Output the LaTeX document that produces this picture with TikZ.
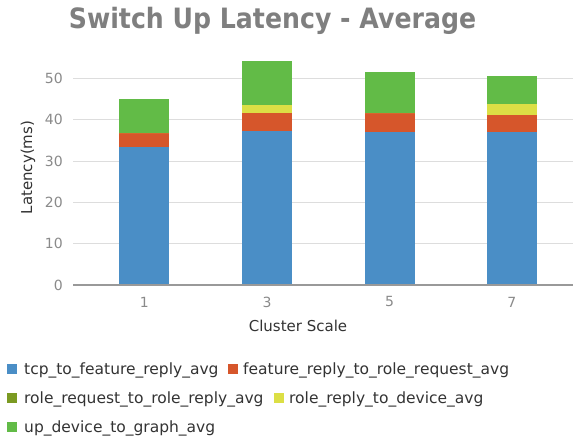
\documentclass[tikz,border=0pt]{standalone}
\usepackage{fontspec}
\setmainfont{DejaVu Sans}
\newfontfamily\titlefont[FakeStretch=0.9]{DejaVu Sans Bold}
\definecolor{cBlue}{HTML}{4A8EC6}
\definecolor{cOrange}{HTML}{D6562B}
\definecolor{cOlive}{HTML}{7B9A22}
\definecolor{cYellow}{HTML}{DCDF45}
\definecolor{cGreen}{HTML}{62BB47}
\definecolor{cGrid}{HTML}{DDDDDD}
\definecolor{cAxis}{HTML}{999999}
\definecolor{cTick}{HTML}{8A8A8A}
\definecolor{cTitle}{HTML}{7F7F7F}
\definecolor{cText}{HTML}{333333}
\tikzset{
  title/.style={font=\titlefont\fontsize{28}{30}\selectfont, text=cTitle, inner sep=0pt},
  ticklbl/.style={font=\fontsize{14}{15}\selectfont, text=cTick, inner sep=0pt},
  axislbl/.style={font=\fontsize{15}{16}\selectfont, text=cText, inner sep=0pt},
  legtext/.style={font=\fontsize{15.5}{16}\selectfont, text=cText, inner sep=0pt, anchor=west},
  legsq/.style={minimum size=10pt, inner sep=0pt, anchor=west},
  grid line/.style={draw=cGrid, line width=1pt},
}
\begin{document}
\begin{tikzpicture}[x=1pt, y=-1pt]
\useasboundingbox (0,0) rectangle (573,439);
\fill[white] (0,0) rectangle (573,439);

\node[title] (title) at (272.5,21) {Switch Up Latency - Average};

% plot area: value 0 at y=285, 4.13pt per ms
\begin{scope}[shift={(0,285)}, y=4.13pt]
  \foreach \v in {10,20,30,40,50}
    \draw[grid line] (73,\v) -- (573,\v);
  \foreach \v in {0,10,20,30,40,50}
    \node[ticklbl, anchor=east] (yt\v) at (63,\v) {\v};

  % stacked bars: blue, orange, yellow, green boundaries
  \newcommand\stackbar[6]{%
    \fill[cBlue]   (#1-25,0)  rectangle (#1+25,#2);
    \fill[cOrange] (#1-25,#2) rectangle (#1+25,#3);
    \fill[cYellow] (#1-25,#3) rectangle (#1+25,#4);
    \fill[cGreen]  (#1-25,#4) rectangle (#1+25,#5);
    \node[ticklbl] (xt#6) at (#1,-4.1) {#6};
  }
  \stackbar{144.3}{33.3}{36.8}{36.8}{45.0}{1}
  \stackbar{267}{37.3}{41.6}{43.7}{54.3}{3}
  \stackbar{389.5}{37.1}{41.6}{41.6}{51.6}{5}
  \stackbar{511.8}{37.1}{41.1}{43.8}{50.7}{7}

  \draw[draw=cAxis, line width=1.5pt] (73,0) -- (573,0);
\end{scope}

\node[axislbl, rotate=90] (ylabel) at (28,167.5) {Latency(ms)};
\node[axislbl] (xlabel) at (298,326) {Cluster Scale};

% legend
\node[legsq, fill=cBlue]   (sq1) at (7,369) {};
\node[legtext] (lt1) at (24,370) {tcp\_to\_feature\_reply\_avg};
\node[legsq, fill=cOrange] (sq2) at (228,369) {};
\node[legtext] (lt2) at (243,370) {feature\_reply\_to\_role\_request\_avg};
\node[legsq, fill=cOlive]  (sq3) at (7,398) {};
\node[legtext] (lt3) at (24,399) {role\_request\_to\_role\_reply\_avg};
\node[legsq, fill=cYellow] (sq4) at (274,398) {};
\node[legtext] (lt4) at (289,399) {role\_reply\_to\_device\_avg};
\node[legsq, fill=cGreen]  (sq5) at (7,427) {};
\node[legtext] (lt5) at (24,428) {up\_device\_to\_graph\_avg};
\end{tikzpicture}
\end{document}
